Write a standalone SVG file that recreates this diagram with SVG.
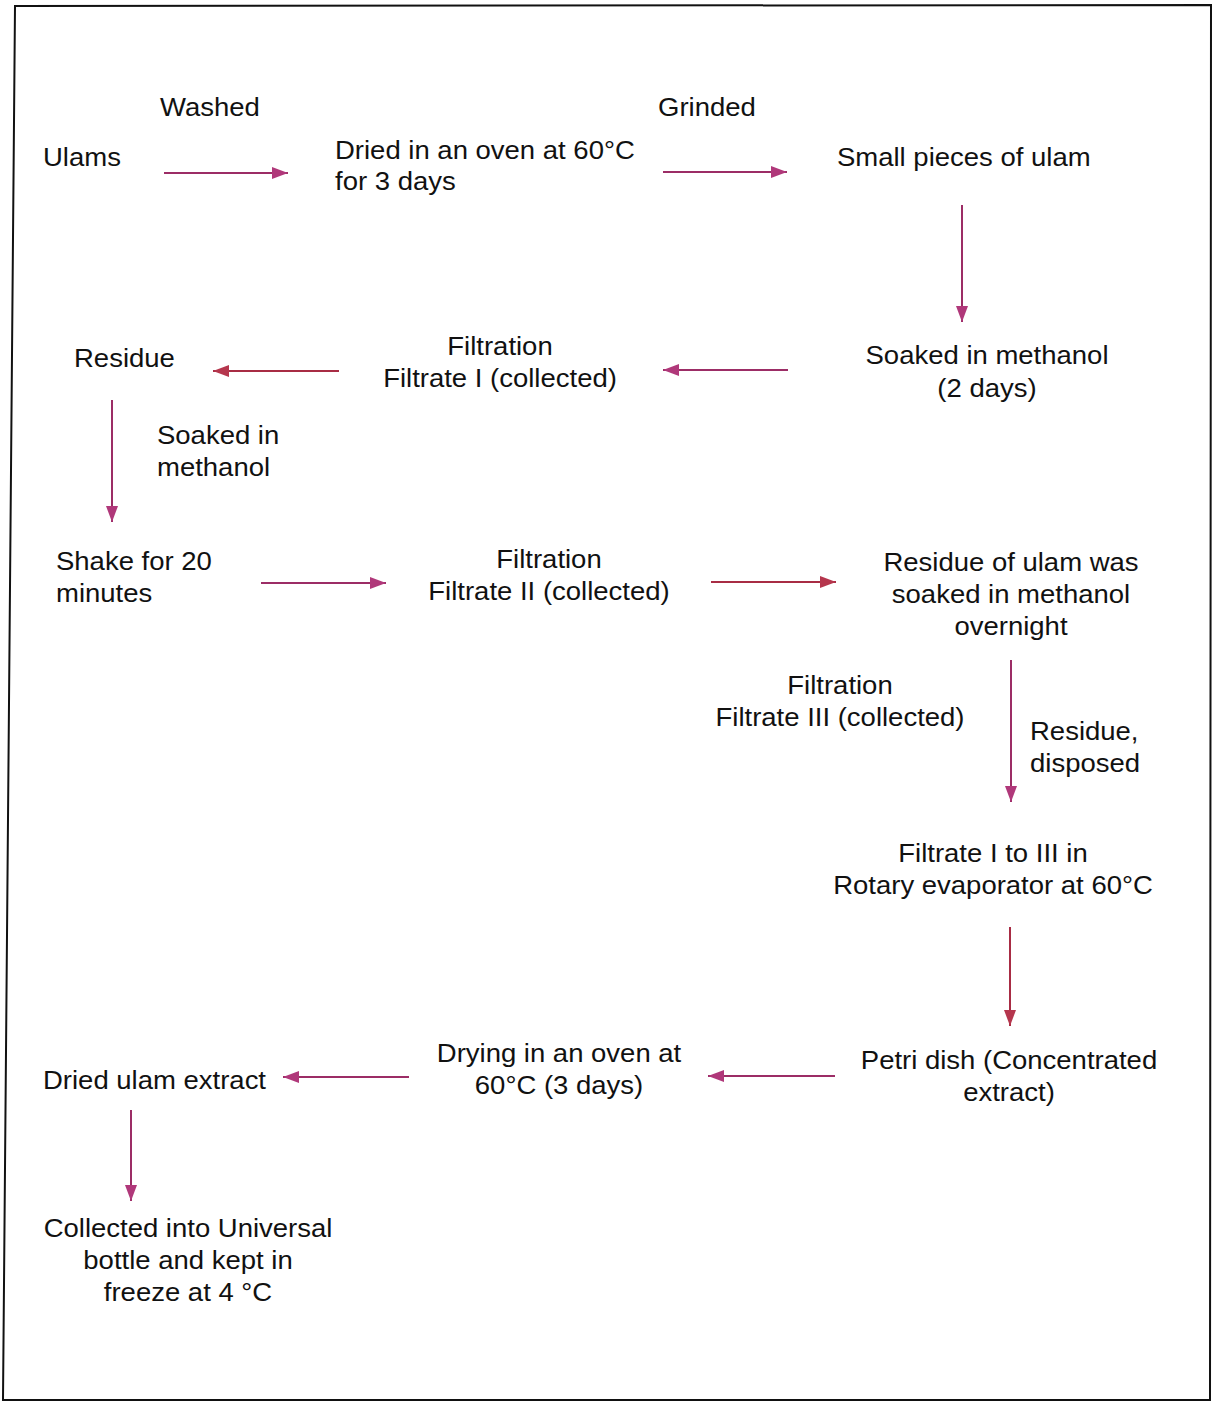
<svg xmlns="http://www.w3.org/2000/svg" width="1213" height="1402" viewBox="0 0 1213 1402">
<style>
text{font-family:"Liberation Sans",Arial,sans-serif;font-size:25px;fill:#111}
.m{text-anchor:middle}
.c{stroke-width:2;fill:none}
.p{stroke:#9c2d66}
.r{stroke:#a82c44}
</style>
<defs>
<marker id="ap" viewBox="0 0 16 12" refX="16" refY="6" markerWidth="16" markerHeight="12" markerUnits="userSpaceOnUse" orient="auto"><path d="M0,0 L16,6 L0,12 Z" fill="#b0387a"/></marker>
<marker id="ar" viewBox="0 0 16 12" refX="16" refY="6" markerWidth="16" markerHeight="12" markerUnits="userSpaceOnUse" orient="auto"><path d="M0,0 L16,6 L0,12 Z" fill="#b5364d"/></marker>
</defs>
<rect width="1213" height="1402" fill="#fff"/>
<path d="M15,6 L1211,5 L1210,1400 L3,1400 Z" fill="none" stroke="#111" stroke-width="2"/>
<g id="connectors">
<line class="c p" x1="164" y1="173" x2="288" y2="173" marker-end="url(#ap)"/>
<line class="c p" x1="663" y1="172" x2="787" y2="172" marker-end="url(#ap)"/>
<line class="c p" x1="962" y1="205" x2="962" y2="322" marker-end="url(#ap)"/>
<line class="c p" x1="788" y1="370" x2="663" y2="370" marker-end="url(#ap)"/>
<line class="c r" x1="339" y1="371" x2="213" y2="371" marker-end="url(#ar)"/>
<line class="c p" x1="112" y1="400" x2="112" y2="522" marker-end="url(#ap)"/>
<line class="c p" x1="261" y1="583" x2="386" y2="583" marker-end="url(#ap)"/>
<line class="c r" x1="711" y1="582" x2="836" y2="582" marker-end="url(#ar)"/>
<line class="c p" x1="1011" y1="660" x2="1011" y2="802" marker-end="url(#ap)"/>
<line class="c r" x1="1010" y1="927" x2="1010" y2="1026" marker-end="url(#ar)"/>
<line class="c p" x1="835" y1="1076" x2="708" y2="1076" marker-end="url(#ap)"/>
<line class="c p" x1="409" y1="1077" x2="283" y2="1077" marker-end="url(#ap)"/>
<line class="c p" x1="131" y1="1110" x2="131" y2="1201" marker-end="url(#ap)"/>
</g>
<g id="label-washed"><text transform="translate(160,116) scale(1.1,1)">Washed</text></g>
<g id="label-grinded"><text transform="translate(658,116) scale(1.1,1)">Grinded</text></g>
<g id="node-ulams"><text transform="translate(43,166) scale(1.1,1)">Ulams</text></g>
<g id="node-dried"><text transform="translate(335,159) scale(1.1,1)">Dried in an oven at 60°C</text><text transform="translate(335,190) scale(1.1,1)">for 3 days</text></g>
<g id="node-small"><text transform="translate(837,166) scale(1.1,1)">Small pieces of ulam</text></g>
<g id="node-soaked"><text class="m" transform="translate(987,364) scale(1.1,1)">Soaked in methanol</text><text class="m" transform="translate(987,397) scale(1.1,1)">(2 days)</text></g>
<g id="node-filtration1"><text class="m" transform="translate(500,355) scale(1.1,1)">Filtration</text><text class="m" transform="translate(500,387) scale(1.1,1)">Filtrate I (collected)</text></g>
<g id="node-residue"><text transform="translate(74,367) scale(1.1,1)">Residue</text></g>
<g id="label-soaked2"><text transform="translate(157,444) scale(1.1,1)">Soaked in</text><text transform="translate(157,476) scale(1.1,1)">methanol</text></g>
<g id="node-shake"><text transform="translate(56,570) scale(1.1,1)">Shake for 20</text><text transform="translate(56,602) scale(1.1,1)">minutes</text></g>
<g id="node-filtration2"><text class="m" transform="translate(549,568) scale(1.1,1)">Filtration</text><text class="m" transform="translate(549,600) scale(1.1,1)">Filtrate II (collected)</text></g>
<g id="node-residue-ulam"><text class="m" transform="translate(1011,571) scale(1.1,1)">Residue of ulam was</text><text class="m" transform="translate(1011,603) scale(1.1,1)">soaked in methanol</text><text class="m" transform="translate(1011,635) scale(1.1,1)">overnight</text></g>
<g id="label-filtration3"><text class="m" transform="translate(840,694) scale(1.1,1)">Filtration</text><text class="m" transform="translate(840,726) scale(1.1,1)">Filtrate III (collected)</text></g>
<g id="label-disposed"><text transform="translate(1030,740) scale(1.1,1)">Residue,</text><text transform="translate(1030,772) scale(1.1,1)">disposed</text></g>
<g id="node-rotary"><text class="m" transform="translate(993,862) scale(1.1,1)">Filtrate I to III in</text><text class="m" transform="translate(993,894) scale(1.1,1)">Rotary evaporator at 60°C</text></g>
<g id="node-petri"><text class="m" transform="translate(1009,1069) scale(1.1,1)">Petri dish (Concentrated</text><text class="m" transform="translate(1009,1101) scale(1.1,1)">extract)</text></g>
<g id="node-drying"><text class="m" transform="translate(559,1062) scale(1.1,1)">Drying in an oven at</text><text class="m" transform="translate(559,1094) scale(1.1,1)">60°C (3 days)</text></g>
<g id="node-dried-extract"><text transform="translate(43,1089) scale(1.1,1)">Dried ulam extract</text></g>
<g id="node-collected"><text class="m" transform="translate(188,1237) scale(1.1,1)">Collected into Universal</text><text class="m" transform="translate(188,1269) scale(1.1,1)">bottle and kept in</text><text class="m" transform="translate(188,1301) scale(1.1,1)">freeze at 4 °C</text></g>
</svg>
